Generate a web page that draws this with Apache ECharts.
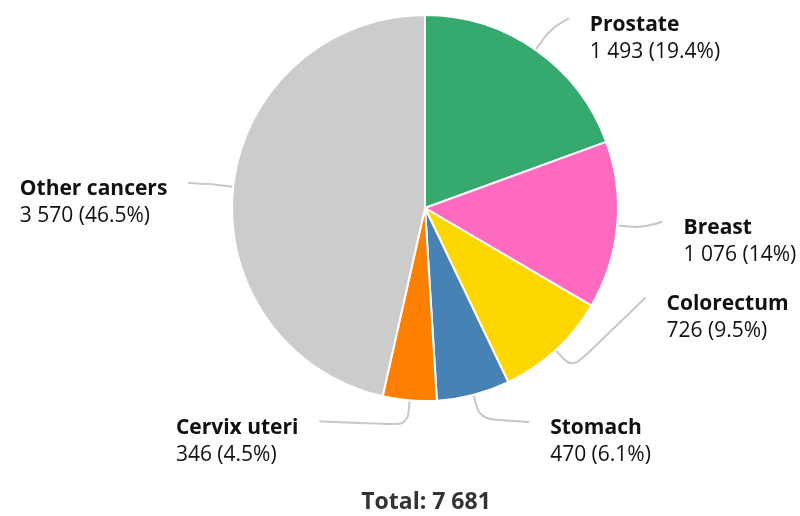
<!DOCTYPE html>
<html>
<head>
<meta charset="utf-8">
<script src="https://cdn.jsdelivr.net/npm/echarts@6/dist/echarts.min.js"></script>
<style>
  html, body { margin: 0; padding: 0; background: #fff; }
  #chart { width: 800px; height: 516px; }
</style>
</head>
<body>
<div id="chart"></div>
<script>
const cancers = ['Prostate', 'Breast', 'Colorectum', 'Stomach', 'Cervix uteri', 'Other cancers'];
const cases = [1493, 1076, 726, 470, 346, 3570];
const colors = ['#36a96f', '#ff6ac1', '#ffd700', '#4682b4', '#ff7f00', '#cccccc'];
// vertical nudge of each label (px) so the labels spread like the original
const labelNudge = [-11, -6, -71, 3, -4, -1];

function fmt(n) {
    return String(n).replace(/\B(?=(\d{3})+(?!\d))/g, ' ');
}

const total = cases.reduce((a, b) => a + b, 0);

const cx = 425, cy = 208, radius = 193;
const lineLen = 25;
const labelRadius = 238;

const chart = echarts.init(document.getElementById('chart'));

chart.setOption({
    textStyle: { fontFamily: 'Open Sans' },
    title: {
        text: 'Total: ' + fmt(total),
        left: 421,
        textAlign: 'center',
        top: 486,
        textStyle: { fontSize: 23, fontWeight: 'bold', color: '#333', fontFamily: 'Open Sans' }
    },
    series: [{
        type: 'pie',
        center: [cx, cy],
        radius: radius,
        startAngle: 90,
        itemStyle: { borderColor: '#fff', borderWidth: 2 },
        data: cancers.map((name, i) => ({
            name: name,
            value: cases[i],
            itemStyle: { color: colors[i] }
        })),
        label: {
            color: '#111',
            fontSize: 21,
            lineHeight: 27,
            formatter: p => {
                const pct = Math.round(p.value / total * 1000) / 10;
                return '{b|' + p.name + '}\n' + fmt(p.value) + ' (' + pct + '%)';
            },
            rich: {
                b: { fontWeight: 'bold', fontSize: 21, lineHeight: 27, color: '#111' }
            }
        },
        labelLine: {
            show: true,
            length: lineLen,
            length2: 25,
            smooth: 0.3,
            lineStyle: { color: '#c8c8c8', width: 2 }
        },
        labelLayout: p => {
            const pts = p.labelLinePoints;
            if (!pts) return {};
            const p0 = pts[0];
            // radial elbow, from the edge point the library gives
            const k = (radius + lineLen) / radius;
            const p1 = [cx + (p0[0] - cx) * k, cy + (p0[1] - cy) * k];
            const right = p1[0] >= cx;
            const y = p1[1] + labelNudge[p.dataIndex];
            const dx = Math.sqrt(Math.max(labelRadius * labelRadius - (y - cy) * (y - cy), 0));
            const x = right ? cx + dx : cx - dx;
            return {
                x: right ? x + 21 : x - 21 - p.labelRect.width,
                y: y - 7,
                align: 'left',
                verticalAlign: 'top',
                labelLinePoints: [p0, p1, [x, y]]
            };
        },
        emphasis: { disabled: true }
    }]
});
</script>
</body>
</html>
